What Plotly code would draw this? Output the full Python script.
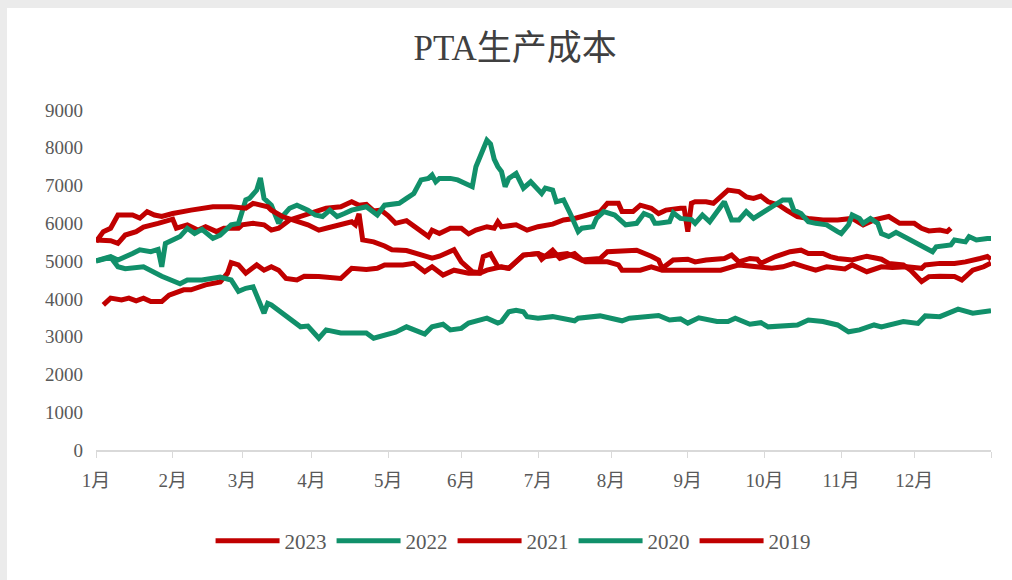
import plotly.graph_objects as go

# trading-day index of each month start (last = year end)
month_ticks = [0, 21, 40, 59, 80, 100, 121, 141, 162, 183, 204, 224, 245]
month_labels = ["1月", "2月", "3月", "4月", "5月", "6月", "7月", "8月", "9月", "10月", "11月", "12月", ""]

x_2023 = [0, 4, 6, 8, 11, 13, 17, 21, 22, 25, 28, 30, 33, 35, 39, 40, 43, 46, 48, 50, 53, 56, 59, 63, 67, 70, 72, 74,
          76, 78, 80, 82, 85, 88, 91, 92, 94, 97, 100, 102, 104, 107, 109, 110, 111, 115, 118, 121, 123, 125, 128, 131,
          136, 138, 140, 143, 144, 147, 149, 152, 154, 156, 160, 161, 162, 163, 164, 167, 169, 171, 173, 176, 178, 180,
          182, 184, 187, 189, 192, 195, 199, 203, 207, 210, 213, 217, 220, 224, 226, 228, 231, 233, 234]
y_2023 = [5560, 5540, 5470, 5690, 5780, 5900, 6000, 6110, 5870, 5960, 5820, 5910, 5780, 5870, 5870, 5960, 6000, 5960,
          5820, 5870, 6090, 6180, 6270, 6400, 6440, 6570, 6480, 6500, 6330, 6350, 6200, 6000, 6070, 5870, 5650, 5820,
          5730, 5870, 5870, 5720, 5820, 5910, 5870, 6040, 5910, 5960, 5820, 5910, 5960, 5980, 6090, 6130, 6260, 6310,
          6530, 6530, 6310, 6310, 6480, 6400, 6260, 6350, 6400, 6400, 5780, 6530, 6570, 6570, 6530, 6700, 6880, 6840,
          6700, 6660, 6720, 6570, 6480, 6350, 6180, 6130, 6090, 6090, 6130, 5960, 6090, 6180, 6000, 6000, 5870, 5800,
          5820, 5780, 5870]

x_2022 = [0, 4, 6, 8, 10, 12, 15, 17, 18, 19, 20, 23, 25, 27, 29, 32, 34, 35, 37, 39, 41, 42, 44, 45, 46, 48, 50, 51,
          53, 55, 58, 60, 62, 64, 66, 68, 70, 74, 77, 79, 82, 83, 85, 87, 89, 91, 92, 93, 94, 97, 99, 102, 103, 104,
          106, 107, 108, 109, 110, 111, 112, 113, 115, 117, 119, 121, 122, 123, 125, 126, 128, 130, 132, 133, 136, 137,
          139, 142, 145, 148, 150, 152, 153, 154, 157, 158, 160, 163, 164, 166, 168, 172, 174, 176, 178, 180, 182, 185,
          188, 190, 191, 193, 195, 197, 200, 203, 204, 206, 207, 209, 210, 212, 214, 215, 217, 219, 223, 226, 229, 230,
          234, 235, 238, 239, 241, 244, 245]
y_2022 = [5010, 5120, 5030, 5100, 5200, 5300, 5250, 5310, 4850, 5470, 5510, 5650, 5870, 5730, 5840, 5600, 5690, 5780,
          5960, 6000, 6620, 6660, 6880, 7200, 6660, 6480, 6000, 6180, 6400, 6480, 6350, 6220, 6180, 6350, 6180, 6260,
          6350, 6440, 6220, 6480, 6530, 6530, 6660, 6790, 7150, 7190, 7280, 7100, 7190, 7190, 7150, 7010, 6970, 7500,
          7940, 8200, 8100, 7700, 7500, 7370, 6970, 7190, 7320, 6930, 7100, 6880, 6790, 6930, 6880, 6570, 6620, 6220,
          5780, 5870, 5910, 6130, 6310, 6220, 5960, 6000, 6260, 6180, 6000, 6000, 6040, 6280, 6130, 6100, 6000, 6220,
          6040, 6570, 6090, 6090, 6310, 6130, 6260, 6440, 6620, 6620, 6350, 6260, 6040, 6000, 5960, 5780, 5730, 5960,
          6220, 6130, 6000, 6130, 6000, 5730, 5650, 5760, 5560, 5430, 5250, 5380, 5430, 5560, 5510, 5650, 5560, 5600,
          5600]

x_2021 = [2, 4, 7, 9, 11, 13, 15, 18, 20, 24, 26, 30, 34, 36, 37, 39, 41, 44, 46, 48, 50, 52, 55, 57, 61, 67, 70, 74,
          77, 79, 82, 84, 87, 90, 92, 95, 98, 102, 105, 107, 111, 113, 117, 121, 122, 125, 127, 131, 133, 138, 140, 145,
          148, 152, 154, 155, 158, 162, 164, 167, 172, 174, 176, 179, 181, 182, 186, 190, 193, 195, 199, 201, 203, 207,
          211, 215, 217, 221, 223, 226, 228, 231, 235, 237, 240, 243, 245]
y_2021 = [3840, 4020, 3970, 4020, 3950, 4020, 3930, 3930, 4100, 4240, 4240, 4370, 4450, 4680, 4960, 4900, 4680, 4900,
          4760, 4850, 4760, 4540, 4500, 4600, 4590, 4540, 4810, 4780, 4810, 4900, 4900, 4900, 4940, 4720, 4850, 4630,
          4760, 4680, 4680, 4760, 4850, 4810, 5160, 5200, 5050, 5290, 5070, 5200, 5030, 5070, 5250, 5290, 5290, 5130,
          5030, 4810, 5030, 5050, 4980, 5030, 5070, 5160, 4980, 5070, 5050, 4940, 5120, 5250, 5290, 5200, 5200, 5120,
          5070, 5030, 5130, 5050, 4940, 4900, 4760, 4460, 4590, 4600, 4590, 4500, 4760, 4850, 4950]

x_2020 = [0, 4, 6, 8, 13, 15, 18, 23, 25, 29, 32, 34, 37, 39, 41, 43, 46, 47, 48, 51, 53, 56, 58, 61, 63, 67, 70, 74,
          76, 79, 82, 85, 90, 92, 95, 97, 100, 102, 107, 110, 111, 113, 115, 117, 118, 121, 125, 131, 132, 138, 144,
          146, 154, 157, 160, 162, 165, 170, 173, 175, 179, 182, 184, 192, 195, 199, 203, 206, 209, 213, 215, 221, 225,
          227, 231, 236, 240, 245]
y_2020 = [5000, 5100, 4850, 4800, 4850, 4750, 4600, 4400, 4500, 4500, 4550, 4580, 4500, 4200, 4280, 4320, 3620, 3880,
          3840, 3620, 3440, 3260, 3280, 2960, 3180, 3100, 3100, 3100, 2960, 3040, 3120, 3260, 3070, 3260, 3330, 3180,
          3220, 3360, 3490, 3360, 3400, 3660, 3700, 3660, 3530, 3490, 3530, 3420, 3490, 3550, 3420, 3490, 3560, 3440,
          3470, 3360, 3500, 3400, 3400, 3490, 3330, 3370, 3260, 3310, 3440, 3400, 3310, 3130, 3180, 3310, 3260, 3400,
          3350, 3550, 3530, 3730, 3620, 3690]

x_2019 = [0, 2, 4, 6, 10, 12, 14, 16, 18, 21, 26, 32, 37, 41, 43, 47, 48, 51, 58, 61, 63, 67, 70, 71, 72, 73, 76, 79,
          81, 85, 90, 92, 94, 98, 100, 103, 105, 106, 108, 110, 113, 117, 121, 123, 129, 134, 140, 143, 144, 149, 152,
          155, 162, 164, 167, 171, 176, 181, 185, 188, 191, 194, 197, 200, 203, 205, 207, 211, 215, 218, 222, 226, 227,
          231, 235, 238, 242, 244, 245]
y_2019 = [5510, 5780, 5870, 6220, 6220, 6140, 6310, 6220, 6180, 6260, 6350, 6440, 6440, 6400, 6530, 6440, 6350, 6180,
          5960, 5820, 5870, 5960, 6040, 5960, 6250, 5560, 5510, 5400, 5300, 5280, 5120, 5080, 5130, 5300, 4980, 4720,
          4690, 5120, 5190, 4850, 4810, 5160, 5200, 5120, 5200, 4980, 4980, 4900, 4760, 4760, 4850, 4760, 4760, 4760,
          4790, 4760, 4900, 4850, 4810, 4850, 4940, 4850, 4760, 4850, 4810, 4790, 4900, 4720, 4850, 4830, 4850, 4810,
          4900, 4940, 4940, 4980, 5070, 5120, 5050]

RED = "#C00000"
GREEN = "#11906A"

series = [
    ("2023", x_2023, y_2023, RED),
    ("2022", x_2022, y_2022, GREEN),
    ("2021", x_2021, y_2021, RED),
    ("2020", x_2020, y_2020, GREEN),
    ("2019", x_2019, y_2019, RED),
]

fig = go.Figure()
for name, xs, ys, col in series:
    fig.add_trace(go.Scatter(x=xs, y=ys, name=name, mode="lines",
                             line=dict(color=col, width=5)))

FONT = "Liberation Serif, Noto Sans CJK SC, serif"

fig.update_layout(
    width=1012, height=580,
    margin=dict(l=96, r=21, t=110, b=130),
    paper_bgcolor="white", plot_bgcolor="white",
    title=dict(text="PTA生产成本", x=0.509, xanchor="center", y=0.918, yanchor="middle",
               font=dict(family=FONT, size=35, color="#404040")),
    font=dict(family=FONT, size=18, color="#595959"),
    showlegend=True,
    legend=dict(orientation="h", x=0.466, xanchor="center", y=-0.268, yanchor="middle",
                itemwidth=64, font=dict(family=FONT, size=21, color="#595959"),
                tracegroupgap=0),
    xaxis=dict(range=[0, 245], tickmode="array", tickvals=month_ticks, ticktext=month_labels,
               showgrid=False, zeroline=False, showline=True, linecolor="#D9D9D9", linewidth=1.5,
               ticks="outside", ticklen=6, tickcolor="#D9D9D9", ticklabelstandoff=6,
               tickfont=dict(family=FONT, size=19, color="#595959")),
    yaxis=dict(range=[0, 9000], dtick=1000, showgrid=False, zeroline=False, showline=False,
               ticks="", ticklabelstandoff=12,
               tickfont=dict(family=FONT, size=19, color="#595959")),
    shapes=[
        dict(type="rect", xref="paper", yref="paper", x0=-96/895, x1=(7-96)/895, y0=-130/340, y1=450/340,
             fillcolor="#EBEBEB", line=dict(width=0), layer="below"),
        dict(type="rect", xref="paper", yref="paper", x0=-96/895, x1=(1012-96)/895, y0=(450-8)/340, y1=450/340,
             fillcolor="#EBEBEB", line=dict(width=0), layer="below"),
    ],
)

fig.write_html("out.html", config={"displayModeBar": False},
               post_script="document.body.style.margin='0px';")
